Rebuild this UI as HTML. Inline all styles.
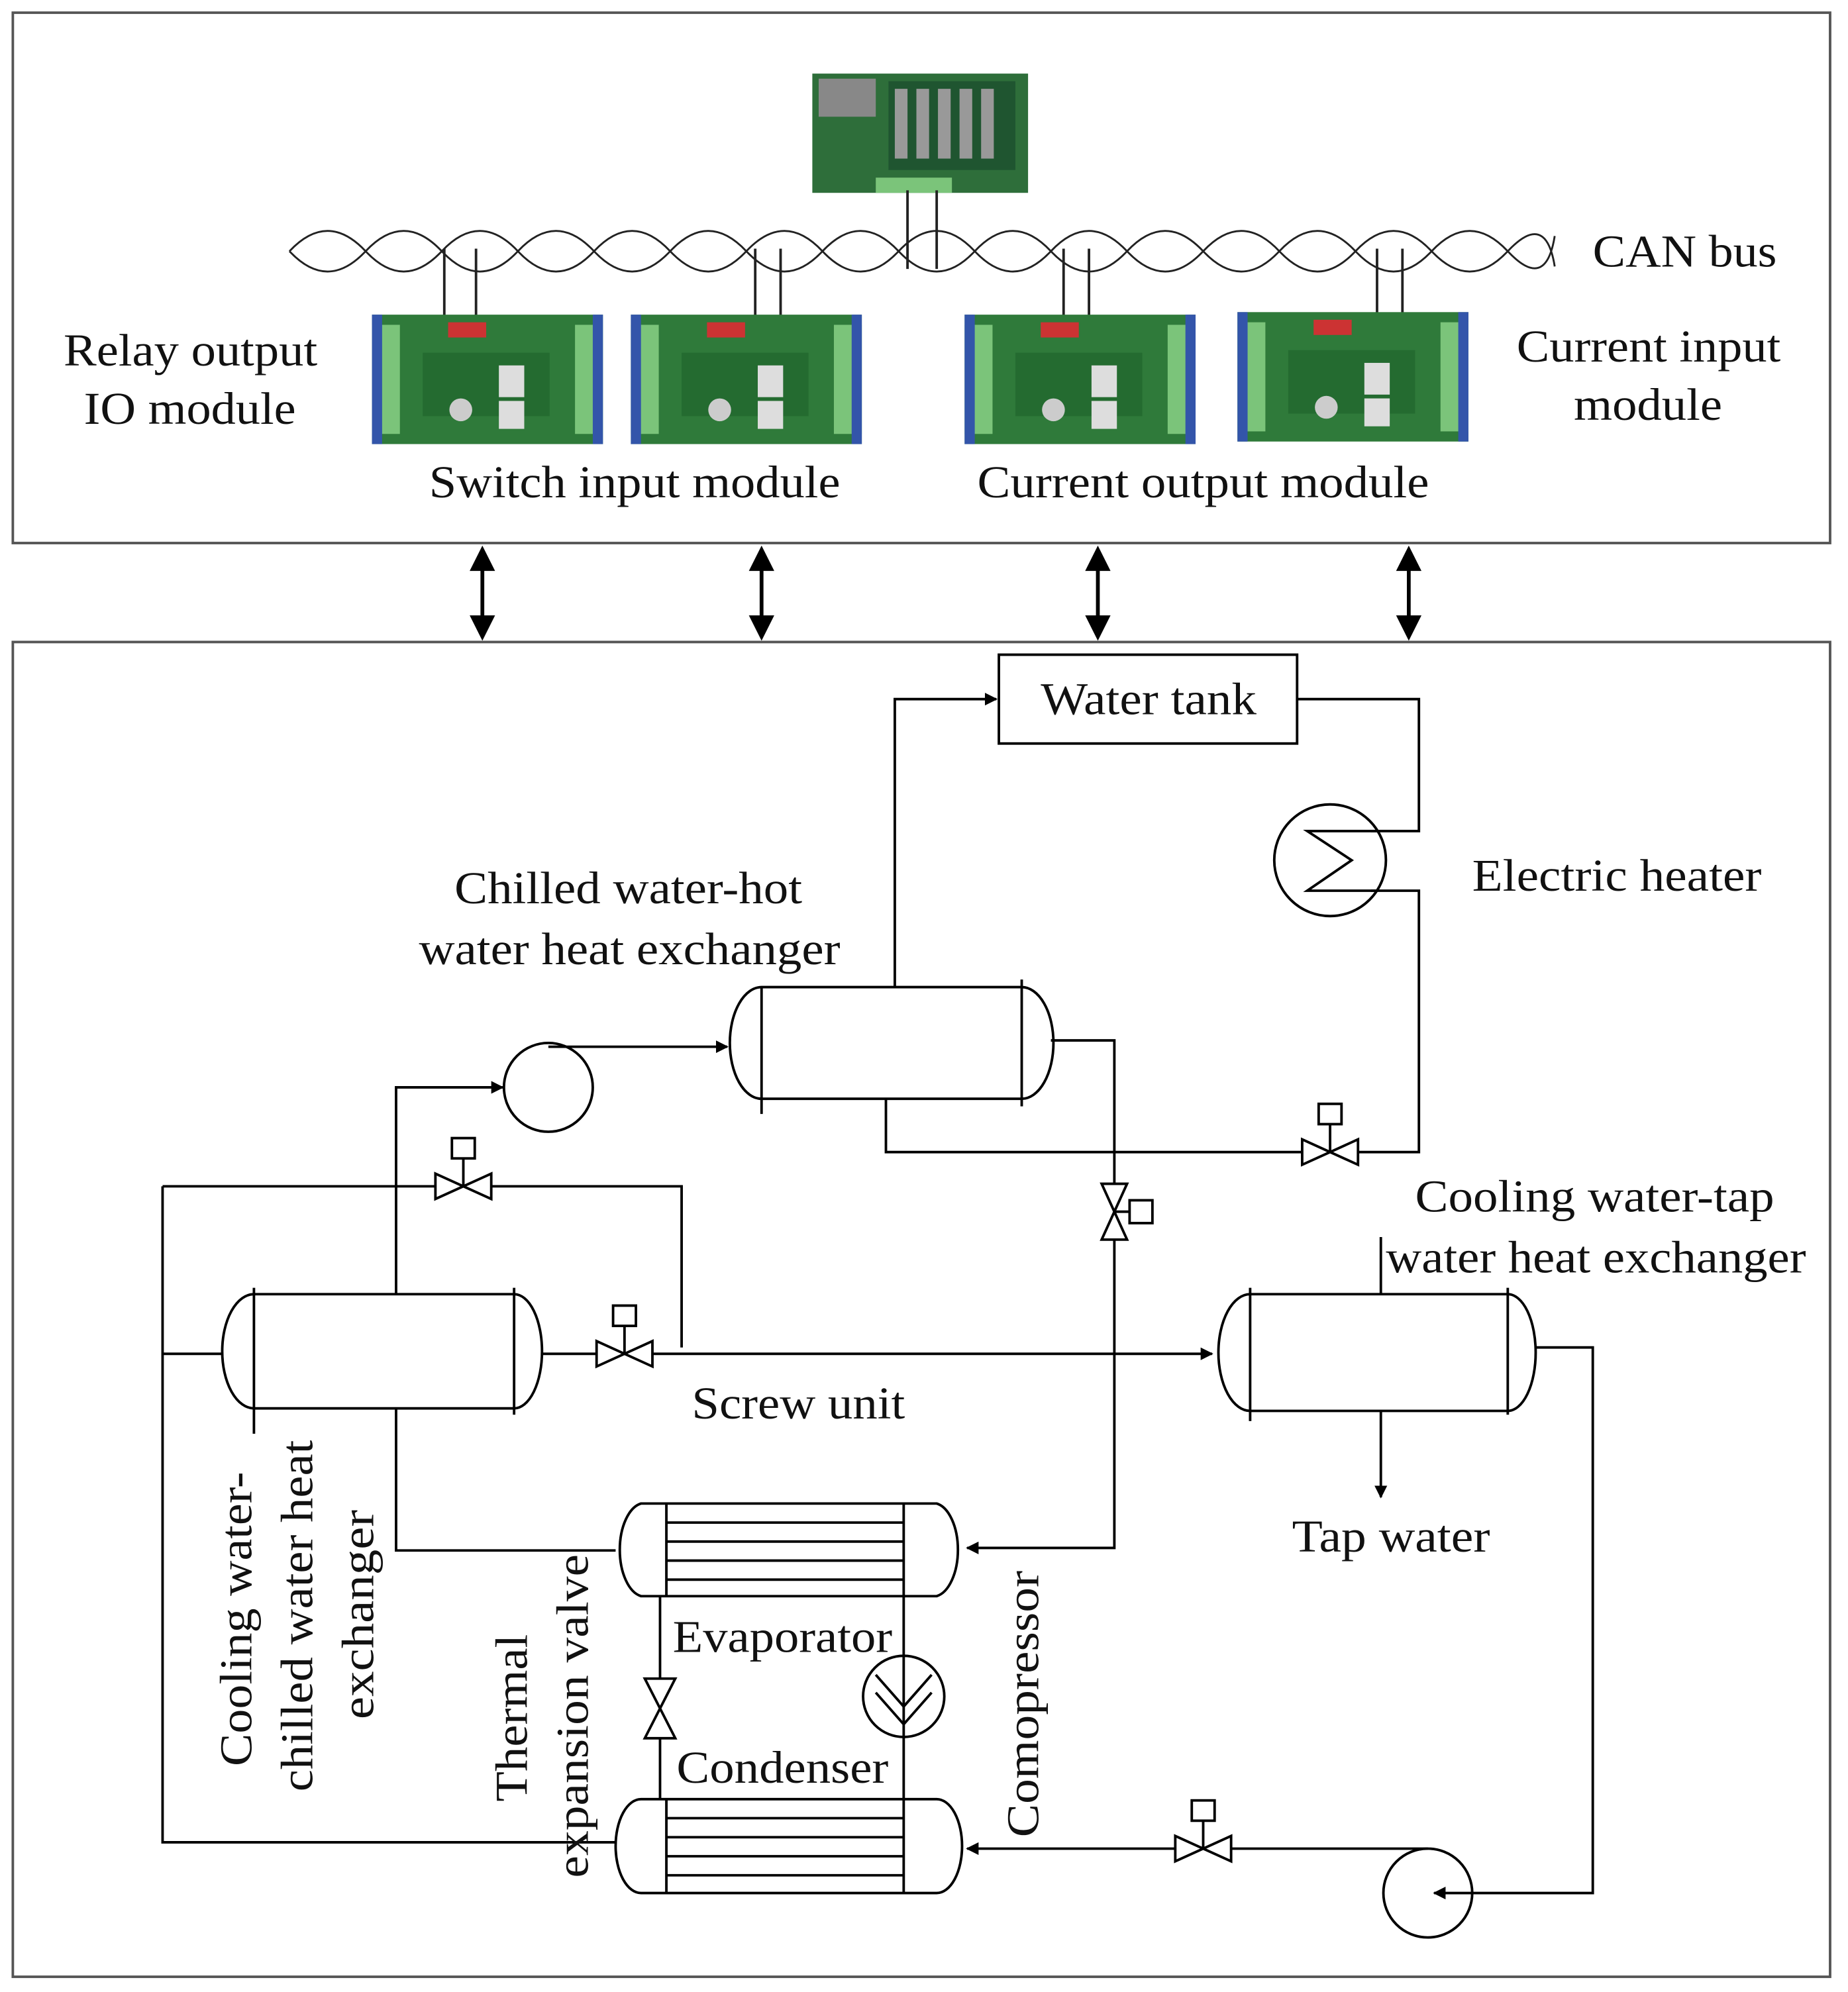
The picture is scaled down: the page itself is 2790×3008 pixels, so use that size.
<!DOCTYPE html>
<html><head><meta charset="utf-8"><style>
html,body{margin:0;padding:0;background:#fff}
svg{display:block}
text{font-family:"Liberation Serif",serif;font-size:36px;fill:#111}
</style></head><body>
<svg width="2790" height="3008" viewBox="0 0 1456 1570" xmlns="http://www.w3.org/2000/svg">
<defs>
<marker id="ah" markerWidth="10" markerHeight="10" refX="9" refY="5" orient="auto" markerUnits="userSpaceOnUse" viewBox="0 0 10 10"><path d="M0,0 L10,5 L0,10 z" fill="#000"/></marker>
<g id="valveH"><path d="M-22,-10 L22,10 L22,-10 L-22,10 z" fill="#fff" stroke="#000" stroke-width="2"/><line x1="0" y1="0" x2="0" y2="-22" stroke="#000" stroke-width="2"/><rect x="-9" y="-38" width="18" height="16" fill="#fff" stroke="#000" stroke-width="2"/></g>
<g id="mod"><rect x="0" y="0" width="182" height="102" fill="#2f7a3a"/><rect x="0" y="8" width="22" height="86" fill="#7bc47a"/><rect x="160" y="8" width="22" height="86" fill="#7bc47a"/><rect x="0" y="0" width="8" height="102" fill="#3355aa"/><rect x="174" y="0" width="8" height="102" fill="#3355aa"/><rect x="60" y="6" width="30" height="12" fill="#c33"/><rect x="40" y="30" width="100" height="50" fill="#246b30"/><circle cx="70" cy="75" r="9" fill="#ccc"/><rect x="100" y="40" width="20" height="25" fill="#ddd"/><rect x="100" y="68" width="20" height="22" fill="#ddd"/></g>
</defs>
<g fill="none" stroke="#000" stroke-width="2">
<rect x="10" y="10" width="1432" height="418" stroke="#555"/>
<rect x="10" y="506" width="1432" height="1052" stroke="#555"/>
</g>
<rect x="640" y="58" width="170" height="94" fill="#2e6e3a"/>
<rect x="700" y="64" width="100" height="70" fill="#1f5530"/>
<g fill="#999"><rect x="705" y="70" width="10" height="55"/><rect x="722" y="70" width="10" height="55"/><rect x="739" y="70" width="10" height="55"/><rect x="756" y="70" width="10" height="55"/><rect x="773" y="70" width="10" height="55"/></g>
<rect x="645" y="62" width="45" height="30" fill="#888"/>
<rect x="690" y="140" width="60" height="12" fill="#7bc47a"/>
<g fill="none" stroke="#222" stroke-width="1.5">
<path d="M228,198 Q258,166 288,198 T348,198 T408,198 T468,198 T528,198 T588,198 T648,198 T708,198 T768,198 T828,198 T888,198 T948,198 T1008,198 T1068,198 T1128,198 T1188,198 T1225,210"/>
<path d="M228,198 Q258,230 288,198 T348,198 T408,198 T468,198 T528,198 T588,198 T648,198 T708,198 T768,198 T828,198 T888,198 T948,198 T1008,198 T1068,198 T1128,198 T1188,198 T1225,186"/>
</g>
<g stroke="#222" stroke-width="2">
<line x1="715" y1="150" x2="715" y2="212"/><line x1="738" y1="150" x2="738" y2="212"/>
<line x1="350" y1="196" x2="350" y2="250"/><line x1="375" y1="196" x2="375" y2="250"/>
<line x1="595" y1="196" x2="595" y2="250"/><line x1="615" y1="196" x2="615" y2="250"/>
<line x1="838" y1="196" x2="838" y2="250"/><line x1="858" y1="196" x2="858" y2="250"/>
<line x1="1085" y1="196" x2="1085" y2="250"/><line x1="1105" y1="196" x2="1105" y2="250"/>
</g>
<use href="#mod" x="293" y="248"/><use href="#mod" x="497" y="248"/><use href="#mod" x="760" y="248"/><use href="#mod" x="975" y="246"/>
<g lengthAdjust="spacingAndGlyphs">
<text x="1255" y="210" textLength="145" lengthAdjust="spacingAndGlyphs">CAN bus</text>
<text x="50" y="288" textLength="200" lengthAdjust="spacingAndGlyphs">Relay output</text>
<text x="66" y="334" textLength="167" lengthAdjust="spacingAndGlyphs">IO module</text>
<text x="1195" y="285" textLength="208" lengthAdjust="spacingAndGlyphs">Current input</text>
<text x="1240" y="331" textLength="117" lengthAdjust="spacingAndGlyphs">module</text>
<text x="338" y="392" textLength="324" lengthAdjust="spacingAndGlyphs">Switch input module</text>
<text x="770" y="392" textLength="356" lengthAdjust="spacingAndGlyphs">Current output module</text>
</g>
<g stroke="#000" stroke-width="3" fill="#000">
<line x1="380" y1="440" x2="380" y2="495"/><line x1="600" y1="440" x2="600" y2="495"/><line x1="865" y1="440" x2="865" y2="495"/><line x1="1110" y1="440" x2="1110" y2="495"/>
</g>
<g fill="#000">
<path d="M370,450 L380,430 L390,450z M370,485 L380,505 L390,485z"/>
<path d="M590,450 L600,430 L610,450z M590,485 L600,505 L610,485z"/>
<path d="M855,450 L865,430 L875,450z M855,485 L865,505 L875,485z"/>
<path d="M1100,450 L1110,430 L1120,450z M1100,485 L1110,505 L1120,485z"/>
</g>
<g fill="none" stroke="#000" stroke-width="2">
<rect x="787" y="516" width="235" height="70"/>
<path d="M705,778 V551 H785" marker-end="url(#ah)"/>
<path d="M1022,551 H1118 V655 H1080"/>
<path d="M1080,702 H1118 V908 H698 V866"/>
<circle cx="1048" cy="678" r="44"/>
<path d="M1085,655 L1030,655 L1065,678 L1030,702 L1085,702"/>
<path d="M600,778 H805 A25,44 0 0 1 805,866 H600 A25,44 0 0 1 600,778 z"/>
<line x1="600" y1="778" x2="600" y2="878"/><line x1="805" y1="772" x2="805" y2="872"/>
<path d="M828,820 H878 V1220 H762" marker-end="url(#ah)"/>
<circle cx="432" cy="857" r="35"/>
<path d="M312,1020 V857 H396" marker-end="url(#ah)"/>
<path d="M432,825 H573" marker-end="url(#ah)"/>
<path d="M200,1020 H405 A22,45 0 0 1 405,1110 H200 A25,45 0 0 1 200,1020 z"/>
<line x1="200" y1="1015" x2="200" y2="1130"/><line x1="405" y1="1015" x2="405" y2="1115"/>
<path d="M427,1067 H955" marker-end="url(#ah)"/>
<path d="M128,935 H537 V1062"/>
<path d="M128,935 V1452 H485"/>
<path d="M128,1067 H175"/>
<path d="M312,1110 V1222 H485"/>
<path d="M985,1020 H1188 A22,46 0 0 1 1188,1112 H985 A25,46 0 0 1 985,1020 z"/>
<line x1="985" y1="1015" x2="985" y2="1120"/><line x1="1188" y1="1015" x2="1188" y2="1115"/>
<path d="M1088,975 V1020"/>
<path d="M1088,1112 V1180" marker-end="url(#ah)"/>
<path d="M1210,1062 H1255 V1492 H1160"/>
<circle cx="1125" cy="1492" r="35"/>
<path d="M1160,1492 H1130" marker-end="url(#ah)"/>
<path d="M1125,1457 H762" marker-end="url(#ah)"/>
<path d="M505,1185 H738 A20,37 0 0 1 738,1258 H505 A20,37 0 0 1 505,1185 z"/>
<line x1="525" y1="1185" x2="525" y2="1258"/><line x1="712" y1="1185" x2="712" y2="1258"/>
<path d="M525,1200 H712 M525,1215 H712 M525,1230 H712 M525,1245 H712"/>
<path d="M505,1418 H738 A20,37 0 0 1 738,1492 H505 A20,37 0 0 1 505,1418 z"/>
<line x1="525" y1="1418" x2="525" y2="1492"/><line x1="712" y1="1418" x2="712" y2="1492"/>
<path d="M525,1433 H712 M525,1448 H712 M525,1463 H712 M525,1478 H712"/>
<line x1="520" y1="1258" x2="520" y2="1418"/>
<line x1="712" y1="1258" x2="712" y2="1418"/>
<circle cx="712" cy="1337" r="32" fill="#fff"/>
<path d="M690,1320 L712,1345 L734,1320 M690,1334 L712,1359 L734,1334 M712,1305 V1369"/>
</g>
<path d="M508,1323 L532,1323 L508,1370 L532,1370 z" fill="#fff" stroke="#000" stroke-width="2"/>
<use href="#valveH" x="365" y="935"/>
<use href="#valveH" x="492" y="1067"/>
<use href="#valveH" x="1048" y="908"/>
<use href="#valveH" x="948" y="1457"/>
<g transform="translate(878,955) rotate(90)"><path d="M-22,-10 L22,10 L22,-10 L-22,10 z" fill="#fff" stroke="#000" stroke-width="2"/><line x1="0" y1="0" x2="0" y2="-12" stroke="#000" stroke-width="2"/><rect x="-9" y="-30" width="18" height="18" fill="#fff" stroke="#000" stroke-width="2"/></g>
<text x="820" y="563" textLength="170" lengthAdjust="spacingAndGlyphs">Water tank</text>
<text x="1160" y="702" textLength="228" lengthAdjust="spacingAndGlyphs">Electric heater</text>
<text x="358" y="712" textLength="274" lengthAdjust="spacingAndGlyphs">Chilled water-hot</text>
<text x="330" y="760" textLength="332" lengthAdjust="spacingAndGlyphs">water heat exchanger</text>
<text x="1115" y="955" textLength="283" lengthAdjust="spacingAndGlyphs">Cooling water-tap</text>
<text x="1092" y="1003" textLength="331" lengthAdjust="spacingAndGlyphs">water heat exchanger</text>
<text x="545" y="1118" textLength="168" lengthAdjust="spacingAndGlyphs">Screw unit</text>
<text x="1018" y="1223" textLength="156" lengthAdjust="spacingAndGlyphs">Tap water</text>
<text x="530" y="1302" textLength="173" lengthAdjust="spacingAndGlyphs">Evaporator</text>
<text x="533" y="1405" textLength="167" lengthAdjust="spacingAndGlyphs">Condenser</text>
<text transform="translate(198,1392) rotate(-90)" textLength="232" lengthAdjust="spacingAndGlyphs">Cooling water-</text>
<text transform="translate(246,1412) rotate(-90)" textLength="277" lengthAdjust="spacingAndGlyphs">chilled water heat</text>
<text transform="translate(294,1355) rotate(-90)" textLength="165" lengthAdjust="spacingAndGlyphs">exchanger</text>
<text transform="translate(415,1420) rotate(-90)" textLength="132" lengthAdjust="spacingAndGlyphs">Thermal</text>
<text transform="translate(463,1480) rotate(-90)" textLength="255" lengthAdjust="spacingAndGlyphs">expansion valve</text>
<text transform="translate(818,1448) rotate(-90)" textLength="210" lengthAdjust="spacingAndGlyphs">Comopressor</text>
</svg>
</body></html>
